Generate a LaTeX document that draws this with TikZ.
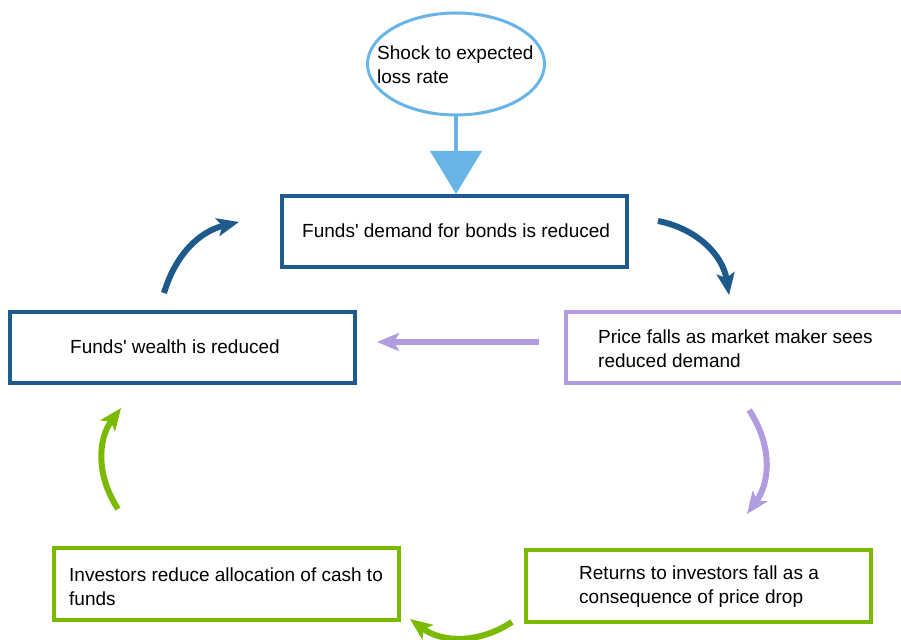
\documentclass[tikz,border=0pt]{standalone}
\usepackage{fontspec}
\setmainfont{Liberation Sans}
\usetikzlibrary{arrows.meta,positioning,shapes.geometric}
\definecolor{navy}{RGB}{31,90,140}
\definecolor{sky}{RGB}{104,180,230}
\definecolor{lilac}{RGB}{176,156,222}
\definecolor{leaf}{RGB}{122,186,0}

\begin{document}
\begin{tikzpicture}[x=1pt,y=1pt,>=Stealth,
box/.style={draw, rectangle, line width=4pt, minimum width=345pt, minimum height=71pt},
txt/.style={anchor=west, align=left, inner sep=0pt, font=\fontsize{19}{24}\selectfont},
flow/.style={line width=6pt, -{Stealth[length=22pt,width=18pt,inset=5pt]}},]
\useasboundingbox (0,0) rectangle (901,639);

% shock on top
\node[ellipse,draw=sky,line width=3pt,minimum width=177pt,minimum height=102pt](shock) at (456,575){};
\node[txt](shocktxt) at (377,574){Shock to expected\\loss rate};

% the loop
\node[box,draw=navy](demand) at (454,407.5){};
\node[box,draw=lilac](price) at (738.5,291){};
\node[box,draw=leaf,minimum height=72pt](returns) at (698,53){};
\node[box,draw=leaf,minimum height=72pt](invest) at (226,55){};
\node[box,draw=navy](wealth) at (182.5,291){};

\node[txt](demandtxt) at (302,408){Funds\textquotesingle{} demand for bonds is reduced};
\node[txt](pricetxt) at (598,290){Price falls as market maker sees\\reduced demand};
\node[txt](returnstxt) at (579,52){Returns to investors fall as a\\consequence of price drop};
\node[txt](investtxt) at (69,52.5){Investors reduce allocation of cash to\\funds};
\node[txt](wealthtxt) at (70,292){Funds\textquotesingle{} wealth is reduced};

\coordinate (a1s) at (658,418); \coordinate (a1e) at (729,344);
\coordinate (a2s) at (164,346); \coordinate (a2e) at (239,417);
\coordinate (a3s) at (539,297); \coordinate (a3e) at (377,297);
\coordinate (a4s) at (749,229); \coordinate (a4e) at (747,125);
\coordinate (a5s) at (118,130); \coordinate (a5e) at (121,231);
\coordinate (a6s) at (512,17);  \coordinate (a6e) at (410,20);

\draw[sky,line width=4pt,-{Triangle[length=43pt,width=51pt]}] (shock.south) -- (shock.south |- demand.north);

\path (a1s) edge[flow,navy,bend left=35] (a1e)
      (a3s) edge[flow,lilac] (a3e)
      (a4s) edge[flow,lilac,bend left=35] (a4e)
      (a6s) edge[flow,leaf,bend left=35] (a6e)
      (a5s) edge[flow,leaf,bend left=35] (a5e)
      (a2s) edge[flow,navy,bend left=30] (a2e)
;
\end{tikzpicture}
\end{document}
